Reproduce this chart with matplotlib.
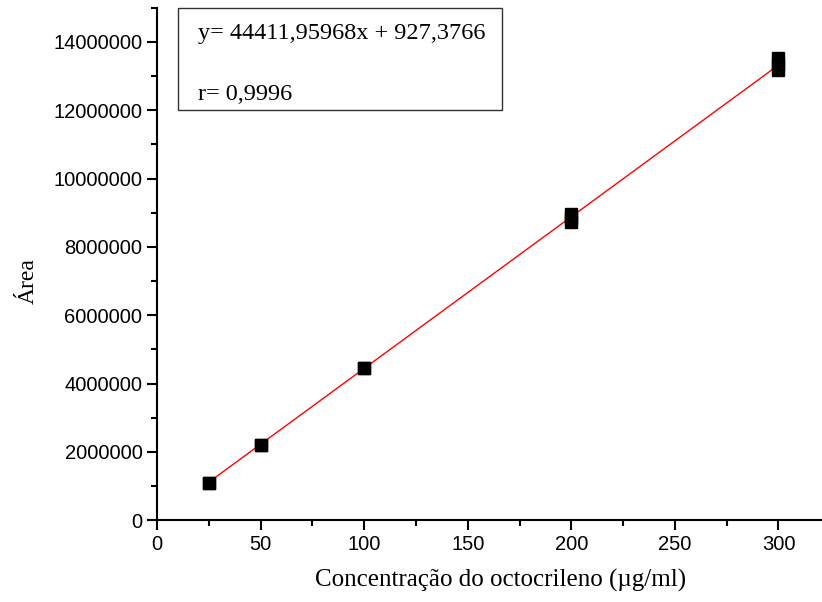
import matplotlib
matplotlib.use("Agg")
import matplotlib.pyplot as plt
from matplotlib.ticker import MultipleLocator
import numpy as np

# concentration (ug/ml) and measured peak area, replicate injections
conc = [25, 25, 50, 50, 100, 100, 200, 200, 200, 300, 300, 300]
area = [1090000, 1080000, 2200000, 2190000, 4460000, 4450000,
        8950000, 8850000, 8720000, 13520000, 13350000, 13170000]

slope = 44411.95968
intercept = 927.3766
r_value = "0,9996"
fit_x = [25, 300]

plt.rcParams["font.family"] = ["Liberation Sans", "DejaVu Sans"]

fig = plt.figure(figsize=(8.22, 6.02), dpi=100)
ax = fig.add_axes([0.191, 0.136, 0.809, 0.851])

fit_y = [slope * x + intercept for x in fit_x]
ax.plot(fit_x, fit_y, color="red", linewidth=1, zorder=2)
ax.plot(conc, area, linestyle="", marker="s", markersize=8,
        color="black", zorder=3)

ax.set_xlim(0, 321)
ax.set_ylim(0, 15000000)
ax.xaxis.set_major_locator(MultipleLocator(50))
ax.xaxis.set_minor_locator(MultipleLocator(25))
ax.yaxis.set_major_locator(MultipleLocator(2000000))
ax.yaxis.set_minor_locator(MultipleLocator(1000000))
ax.yaxis.set_major_formatter(matplotlib.ticker.FuncFormatter(lambda v, p: "%d" % v))

for side in ("top", "right"):
    ax.spines[side].set_visible(False)
for side in ("left", "bottom"):
    ax.spines[side].set_linewidth(1.5)
ax.tick_params(which="major", direction="out", length=7, width=1.5, labelsize=14.5)
ax.tick_params(which="minor", direction="out", length=4, width=1.5)

ax.set_xlabel("Concentração do octocrileno (µg/ml)", family="Liberation Serif",
              fontsize=18)
ax.xaxis.set_label_coords(0.517, -0.096)
ax.set_ylabel("Área", family="Liberation Serif", fontsize=17)
ax.yaxis.set_label_coords(-0.178, 0.467)

box = plt.Rectangle((178 / 822, 1 - 110 / 602), (502 - 178) / 822, 102 / 602,
                    transform=fig.transFigure, fill=False, edgecolor="#333333",
                    linewidth=1)
fig.patches.append(box)
fig.text(198 / 822, 1 - 33 / 602, "y= 44411,95968x + 927,3766",
         family="Liberation Serif", fontsize=17.5, va="center")
fig.text(198 / 822, 1 - 95 / 602, "r= " + r_value,
         family="Liberation Serif", fontsize=17.5, va="center")

fig.savefig("out.png", dpi=100)
